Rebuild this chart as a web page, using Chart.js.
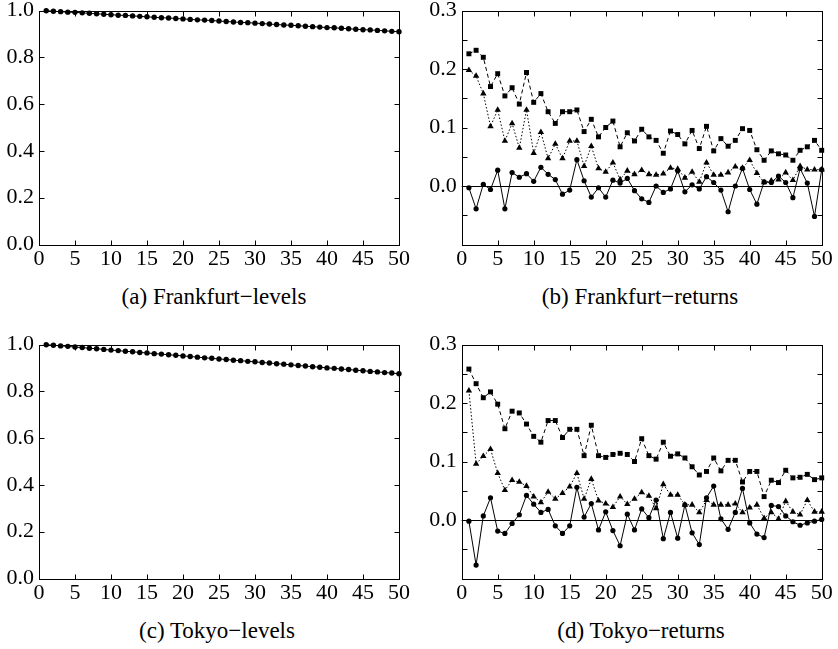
<!DOCTYPE html>
<html>
<head>
<meta charset="utf-8">
<script src="https://cdn.jsdelivr.net/npm/chart.js@4"></script>
<style>
  body { margin: 0; background: #fff; width: 838px; height: 649px; position: relative; overflow: hidden; }
  .panel { position: absolute; width: 419px; height: 275px; }
  .caption { position: absolute; width: 260px; text-align: center; color: #000;
             font: 23px 'Liberation Serif', 'Times New Roman', serif; line-height: 26px; white-space: nowrap; }
</style>
</head>
<body>
<div class="panel" style="left:0;top:0"><canvas id="fraLevels" width="419" height="275"></canvas></div>
<div class="panel" style="left:419px;top:0"><canvas id="fraReturns" width="419" height="275"></canvas></div>
<div class="panel" style="left:0;top:334px"><canvas id="tokLevels" width="419" height="275"></canvas></div>
<div class="panel" style="left:419px;top:334px"><canvas id="tokReturns" width="419" height="275"></canvas></div>

<div class="caption" style="left:84px;top:284px">(a) Frankfurt−levels</div>
<div class="caption" style="left:510px;top:284px">(b) Frankfurt−returns</div>
<div class="caption" style="left:87px;top:618px">(c) Tokyo−levels</div>
<div class="caption" style="left:511px;top:618px">(d) Tokyo−returns</div>

<script>
const horizons = Array.from({ length: 50 }, (_, i) => i + 1);

const fraLevels = [
  0.999, 0.997, 0.995, 0.993, 0.992, 0.990, 0.988, 0.986, 0.984, 0.982,
  0.980, 0.979, 0.977, 0.975, 0.973, 0.971, 0.969, 0.968, 0.966, 0.964,
  0.962, 0.960, 0.959, 0.957, 0.955, 0.953, 0.951, 0.949, 0.948, 0.946,
  0.944, 0.942, 0.940, 0.938, 0.937, 0.935, 0.933, 0.931, 0.929, 0.927,
  0.926, 0.924, 0.922, 0.920, 0.918, 0.917, 0.915, 0.913, 0.911, 0.909
];
const tokLevels = [
  0.999, 0.997, 0.994, 0.992, 0.989, 0.987, 0.984, 0.982, 0.979, 0.976,
  0.974, 0.971, 0.969, 0.966, 0.964, 0.961, 0.959, 0.956, 0.954, 0.951,
  0.949, 0.946, 0.943, 0.941, 0.938, 0.936, 0.933, 0.931, 0.928, 0.926,
  0.923, 0.921, 0.918, 0.916, 0.913, 0.910, 0.908, 0.905, 0.903, 0.900,
  0.898, 0.895, 0.893, 0.890, 0.888, 0.885, 0.883, 0.880, 0.878, 0.875
];

// returns: three series per market (squares / triangles / circles)
const fraSquares = [
  0.226, 0.232, 0.220, 0.170, 0.192, 0.154, 0.168, 0.140, 0.194, 0.143,
  0.158, 0.127, 0.107, 0.127, 0.127, 0.130, 0.093, 0.114, 0.084, 0.100,
  0.111, 0.067, 0.091, 0.077, 0.097, 0.084, 0.078, 0.056, 0.094, 0.088,
  0.072, 0.095, 0.064, 0.102, 0.060, 0.081, 0.068, 0.078, 0.098, 0.095,
  0.062, 0.044, 0.060, 0.055, 0.053, 0.044, 0.061, 0.067, 0.078, 0.061
];
const fraTriangles = [
  0.198, 0.188, 0.158, 0.102, 0.130, 0.077, 0.107, 0.065, 0.130, 0.056,
  0.092, 0.047, 0.072, 0.047, 0.077, 0.077, 0.034, 0.068, 0.030, 0.024,
  0.040, 0.011, 0.026, 0.020, 0.027, 0.020, 0.019, 0.021, 0.031, 0.029,
  0.014, 0.024, 0.007, 0.040, 0.019, 0.019, 0.023, 0.033, 0.031, 0.044,
  0.022, 0.006, 0.009, 0.011, 0.023, 0.010, 0.034, 0.028, 0.028, 0.028
];
const fraCircles = [
  -0.003, -0.039, 0.003, -0.006, 0.027, -0.039, 0.023, 0.015, 0.021, 0.008,
  0.032, 0.020, 0.011, -0.014, -0.007, 0.045, 0.009, -0.019, -0.003, -0.019,
  0.010, 0.005, 0.013, -0.008, -0.022, -0.028, 0.000, -0.011, -0.005, 0.026,
  -0.010, 0.002, -0.005, 0.016, 0.006, -0.007, -0.044, 0.000, 0.030, -0.006,
  -0.031, 0.007, 0.006, 0.017, 0.006, -0.020, 0.030, 0.005, -0.052, 0.028
];

const tokSquares = [
  0.258, 0.233, 0.209, 0.219, 0.198, 0.156, 0.186, 0.183, 0.164, 0.143,
  0.133, 0.170, 0.170, 0.141, 0.155, 0.155, 0.110, 0.162, 0.110, 0.107,
  0.112, 0.114, 0.112, 0.100, 0.139, 0.110, 0.104, 0.133, 0.109, 0.113,
  0.106, 0.091, 0.077, 0.083, 0.106, 0.084, 0.102, 0.102, 0.065, 0.083,
  0.083, 0.040, 0.068, 0.064, 0.085, 0.072, 0.073, 0.078, 0.069, 0.072
];
const tokTriangles = [
  0.221, 0.096, 0.109, 0.121, 0.080, 0.051, 0.068, 0.065, 0.058, 0.040,
  0.030, 0.048, 0.036, 0.046, 0.057, 0.080, 0.036, 0.070, 0.033, 0.028,
  0.022, 0.040, 0.027, 0.036, 0.047, 0.041, 0.020, 0.061, 0.043, 0.043,
  0.026, 0.026, 0.013, 0.034, 0.026, 0.026, 0.026, 0.028, 0.013, 0.021,
  0.026, 0.003, 0.013, 0.002, 0.032, 0.014, 0.009, 0.034, 0.014, 0.014
];
const tokCircles = [
  -0.002, -0.077, 0.007, 0.038, -0.019, -0.023, -0.006, 0.009, 0.042, 0.027,
  0.013, 0.018, -0.010, -0.023, -0.010, 0.056, 0.005, 0.028, -0.017, 0.014,
  -0.018, -0.044, 0.010, -0.017, 0.019, 0.004, 0.034, -0.032, 0.013, -0.031,
  0.026, -0.022, -0.042, 0.038, 0.058, 0.002, -0.016, 0.013, 0.054, -0.005,
  -0.024, -0.030, 0.025, 0.023, 0.007, -0.003, -0.009, -0.005, -0.002, 0.001
];

const serif = "'Liberation Serif', 'Times New Roman', serif";
const tickFont = { family: serif, size: 22, lineHeight: 1 };

const pts = arr => arr.map((v, i) => ({ x: horizons[i], y: v }));

// box around the plot with inward tick marks on all four sides
const frameTicks = {
  id: 'frameTicks',
  beforeDatasetsDraw(chart, args, opts) {
    if (!opts.zeroLine) return;
    const { ctx, chartArea: a, scales: { y } } = chart;
    const py = Math.round(y.getPixelForValue(0)) + 0.5;
    ctx.save();
    ctx.strokeStyle = '#000';
    ctx.lineWidth = 1;
    ctx.beginPath();
    ctx.moveTo(a.left, py);
    ctx.lineTo(a.right, py);
    ctx.stroke();
    ctx.restore();
  },
  afterDatasetsDraw(chart) {
    const { ctx, chartArea: a, scales: { x, y } } = chart;
    const L = Math.round(a.left) + 0.5, R = Math.round(a.right) + 0.5;
    const T = Math.round(a.top) + 0.5, B = Math.round(a.bottom) + 0.5;
    ctx.save();
    ctx.strokeStyle = '#000';
    ctx.lineWidth = 1;
    ctx.beginPath();
    x.ticks.forEach(t => {
      const px = Math.round(x.getPixelForValue(t.value)) + 0.5;
      ctx.moveTo(px, B); ctx.lineTo(px, B - 5);
      ctx.moveTo(px, T); ctx.lineTo(px, T + 5);
    });
    y.ticks.forEach(t => {
      const py = Math.round(y.getPixelForValue(t.value)) + 0.5;
      ctx.moveTo(L, py); ctx.lineTo(L + 5, py);
      ctx.moveTo(R, py); ctx.lineTo(R - 5, py);
    });
    ctx.stroke();
    ctx.strokeRect(L, T, R - L, B - T);
    ctx.restore();
  }
};

function makePanel(id, datasets, yAxis, axisWidth, rightPad, zeroLine) {
  new Chart(document.getElementById(id), {
    type: 'line',
    data: { datasets },
    plugins: [frameTicks],
    options: {
      responsive: false,
      animation: false,
      events: [],
      layout: { padding: { top: 10.5, right: rightPad, left: 0, bottom: 0 } },
      plugins: {
        legend: { display: false },
        tooltip: { enabled: false },
        frameTicks: { zeroLine }
      },
      scales: {
        x: {
          type: 'linear',
          min: 0, max: 50,
          ticks: { stepSize: 5, padding: 4, color: '#000', font: tickFont, maxRotation: 0, autoSkip: false },
          grid: { display: false, drawTicks: false },
          border: { display: false },
          afterFit(s) { s.height = 30.5; s.paddingLeft = 0; s.paddingRight = 0; }
        },
        y: {
          min: yAxis.min, max: yAxis.max,
          ticks: { stepSize: yAxis.step, padding: 5, color: '#000', font: tickFont, autoSkip: false, callback: yAxis.label },
          grid: { display: false, drawTicks: false },
          border: { display: false },
          afterFit(s) { s.width = axisWidth; s.paddingTop = 0; s.paddingBottom = 0; }
        }
      }
    }
  });
}

const levelAxis = { min: 0, max: 1, step: 0.2, label: v => v.toFixed(1) };
const returnAxis = {
  min: -0.1, max: 0.3, step: 0.05,
  label: v => {
    const c = Math.round(v * 100);
    return (c >= 0 && c % 10 === 0) ? (c / 100).toFixed(1) : '';
  }
};

function levelSet(arr) {
  return [{
    data: pts(arr), borderColor: '#000', borderWidth: 1,
    pointStyle: 'circle', pointRadius: 2.7, pointBackgroundColor: '#000', pointBorderWidth: 0,
    clip: false
  }];
}

function returnSets(sq, tri, circ) {
  return [
    { data: pts(sq), borderColor: '#000', borderWidth: 1, borderDash: [4, 3],
      pointStyle: 'rect', pointRadius: 3.5, pointBackgroundColor: '#000', pointBorderWidth: 0, clip: false },
    { data: pts(tri), borderColor: '#000', borderWidth: 1, borderDash: [1.5, 2],
      pointStyle: 'triangle', pointRadius: 3.7, pointBackgroundColor: '#000', pointBorderWidth: 0, clip: false },
    { data: pts(circ), borderColor: '#000', borderWidth: 1,
      pointStyle: 'circle', pointRadius: 2.6, pointBackgroundColor: '#000', pointBorderWidth: 0, clip: false }
  ];
}

makePanel('fraLevels', levelSet(fraLevels), levelAxis, 39, 20, false);
makePanel('fraReturns', returnSets(fraSquares, fraTriangles, fraCircles), returnAxis, 42.7, 16.3, true);
makePanel('tokLevels', levelSet(tokLevels), levelAxis, 39, 20, false);
makePanel('tokReturns', returnSets(tokSquares, tokTriangles, tokCircles), returnAxis, 42.7, 16.3, true);
</script>
</body>
</html>
